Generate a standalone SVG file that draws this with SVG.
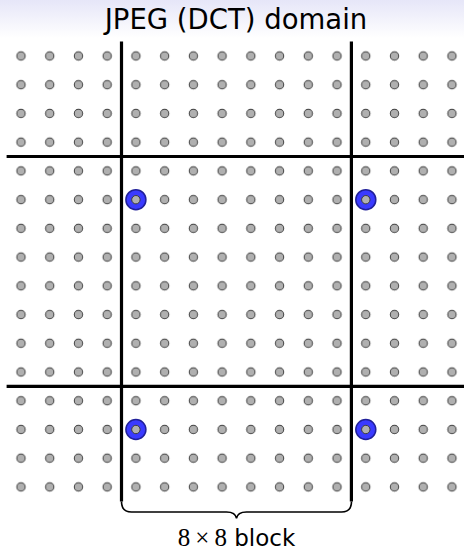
<svg xmlns="http://www.w3.org/2000/svg" width="464" height="552" viewBox="0 0 464 552">
<style>
.dot{fill:#b0b0b0;stroke:#3a3a3a;stroke-width:1}
.blue{fill:#3a3aff;stroke:#20209a;stroke-width:1.5}
.grid{stroke:#000;stroke-width:3.2;fill:none}
.brace{stroke:#000;stroke-width:1.6;fill:none}
.title{font-family:"DejaVu Sans",sans-serif;font-size:27.5px;fill:#000}
.lab{fill:#000}
</style>
<defs>
<linearGradient id="hdr" x1="0" y1="0" x2="0" y2="1">
<stop offset="0" stop-color="#e6e6f8"/>
<stop offset="1" stop-color="#ffffff"/>
</linearGradient>
<pattern id="dots" patternUnits="userSpaceOnUse" x="6.635" y="41.635" width="28.73" height="28.73">
<circle class="dot" cx="14.365" cy="14.365" r="4.2"/>
</pattern>
<g id="bdot"><circle class="blue" cx="0" cy="0" r="10"/><circle class="dot" cx="0" cy="0" r="4.2"/></g>
</defs>
<rect x="0" y="0" width="464" height="38" fill="url(#hdr)"/>
<text class="title" x="236" y="28.5" text-anchor="middle">JPEG (DCT) domain</text>
<rect x="6.635" y="41.635" width="459.7" height="459.7" fill="url(#dots)"/>
<g id="connectors">
<path class="grid" d="M121.5,41.6V501.5M351.4,41.6V501.5M6.6,156.5H466M6.6,386.4H466"/>
<path class="brace" d="M121.5,501.5q0,10.5 10,10.5h95q9,0 10,6.5q1,-6.5 10,-6.5h95q10,0 10,-10.5"/>
</g>
<g id="highlights">
<use href="#bdot" x="135.9" y="199.7"/>
<use href="#bdot" x="365.8" y="199.7"/>
<use href="#bdot" x="135.9" y="429.5"/>
<use href="#bdot" x="365.8" y="429.5"/>
</g>
<text class="lab" x="236.5" y="546" text-anchor="middle"><tspan font-family="'Liberation Serif',serif" font-size="25">8</tspan><tspan font-family="'Liberation Serif',serif" font-size="25" dx="5">×</tspan><tspan font-family="'Liberation Serif',serif" font-size="25" dx="5">8</tspan><tspan font-family="'DejaVu Sans',sans-serif" font-size="23"> block</tspan></text>
</svg>
